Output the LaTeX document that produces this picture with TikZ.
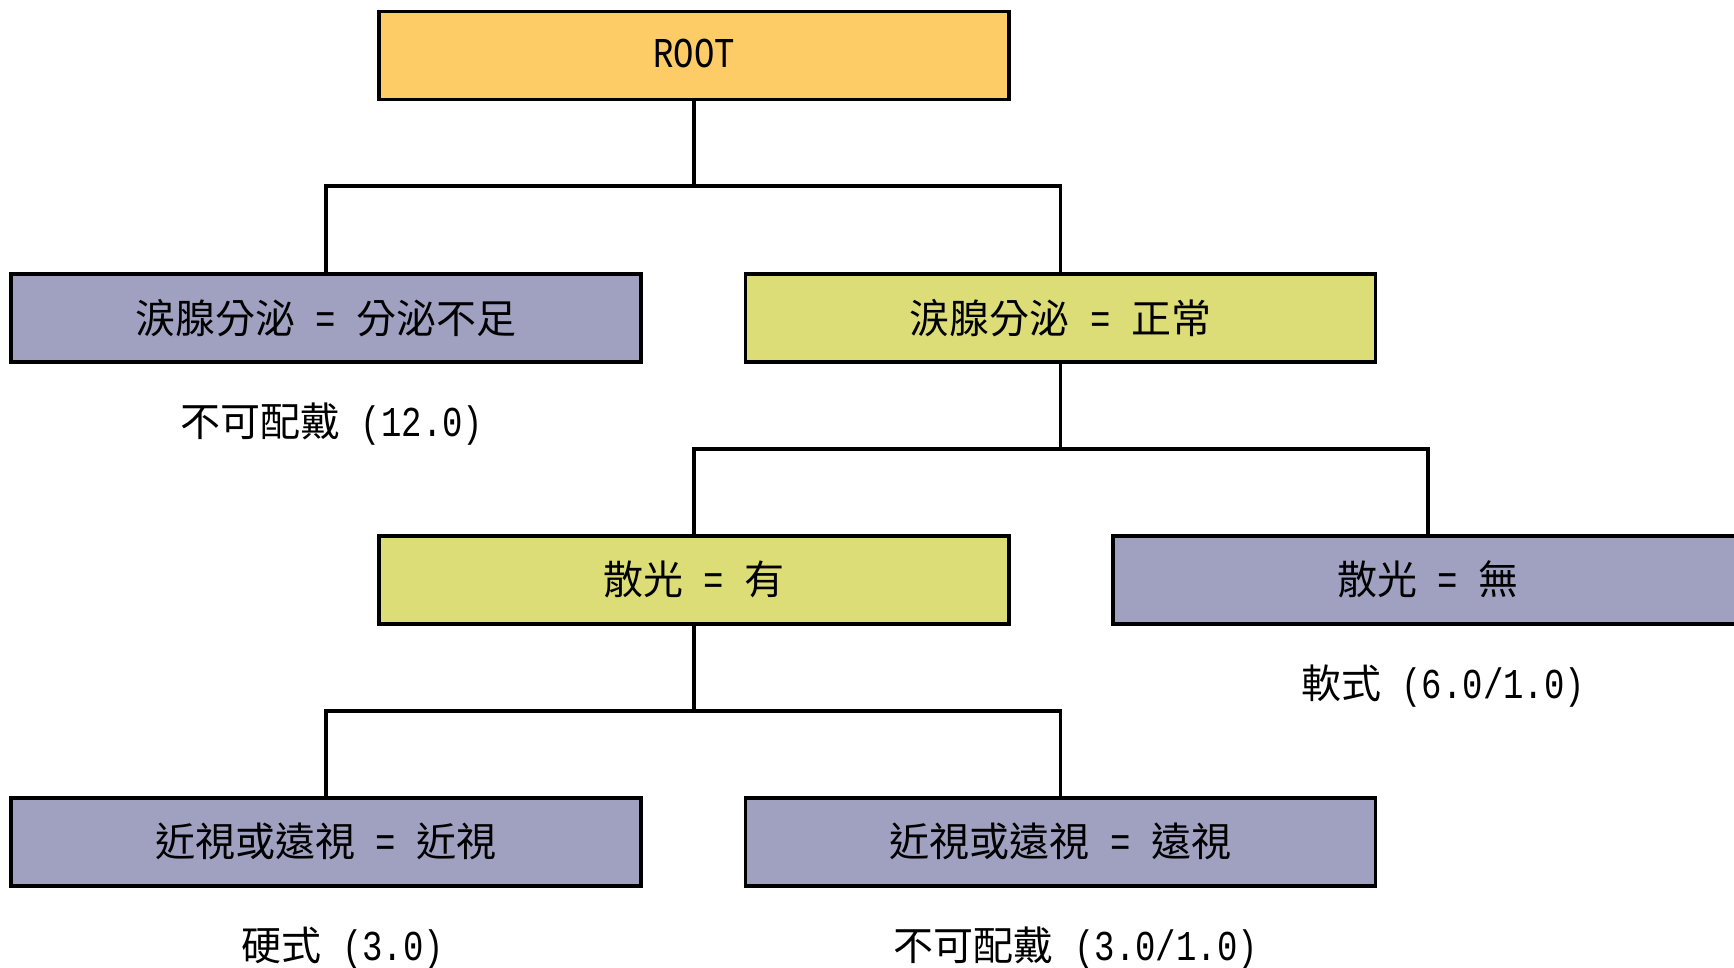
\documentclass[tikz,border=0pt]{standalone}
\usepackage{graphicx}
\usepackage{fontspec}
\setmainfont{Noto Sans CJK TC}
\newfontfamily\latinmono{Liberation Mono}
\newcommand{\lt}[1]{\scalebox{1}[1.25]{\latinmono\fontsize{34}{40}\selectfont #1}}
\newcommand{\up}[1]{\raisebox{4pt}{#1}}
\definecolor{rootfill}{RGB}{254,204,102}
\definecolor{leaffill}{RGB}{160,160,192}
\definecolor{splitfill}{RGB}{221,221,119}
\begin{document}
\begin{tikzpicture}[x=1pt,y=-1pt,
  box/.style={draw=black, line width=3.5pt, minimum width=630pt, minimum height=88pt,
    inner sep=0pt, font=\fontsize{40}{44}\selectfont},
  rootbox/.style={box, fill=rootfill},
  leafbox/.style={box, fill=leaffill},
  splitbox/.style={box, fill=splitfill},
  result/.style={inner sep=0pt, font=\fontsize{40}{44}\selectfont},
  conn/.style={draw=black, line width=3.5pt}]
\useasboundingbox (0,0) rectangle (1734,967);
\fill[white] (0,0) rectangle (1734,967);

\node[rootbox] (root) at (694,55.5) {\up{\lt{ROOT}}};
\node[leafbox] (a1) at (326,318) {\up{涙腺分泌\lt{ = }分泌不足}};
\node[splitbox] (a2) at (1060.5,318) {\up{涙腺分泌\lt{ = }正常}};
\node[splitbox] (b1) at (694,580) {\up{散光\lt{ = }有}};
\node[leafbox] (b2) at (1428,580) {\up{散光\lt{ = }無}};
\node[leafbox] (c1) at (326,842) {\up{近視或遠視\lt{ = }近視}};
\node[leafbox] (c2) at (1060.5,842) {\up{近視或遠視\lt{ = }遠視}};

\node[result] (l1) at (332,424) {不可配戴\lt{ (12.0)}};
\node[result] (l2) at (1443,686) {軟式\lt{ (6.0/1.0)}};
\node[result] (l3) at (343,948) {硬式\lt{ (3.0)}};
\node[result] (l4) at (1076,948) {不可配戴\lt{ (3.0/1.0)}};

\coordinate (j1) at (694,186);
\coordinate (j2) at (1060.5,449);
\coordinate (j3) at (694,711);

\draw[conn] (root.south) -- (j1) -| (a1.north);
\draw[conn] (j1) -| (a2.north);
\draw[conn] (a2.south) -- (j2) -| (b1.north);
\draw[conn] (j2) -| (b2.north);
\draw[conn] (b1.south) -- (j3) -| (c1.north);
\draw[conn] (j3) -| (c2.north);
\end{tikzpicture}
\end{document}
